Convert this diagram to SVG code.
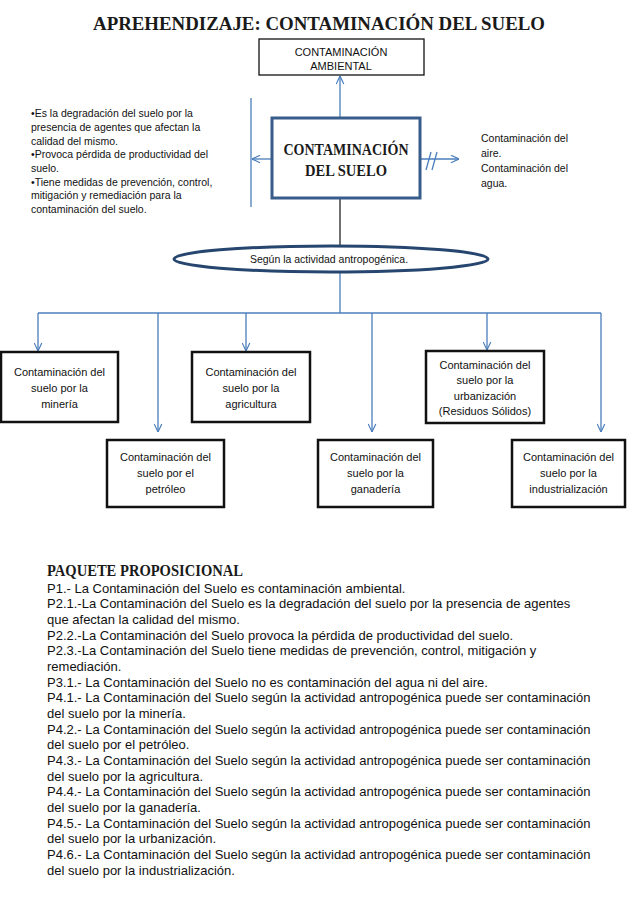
<svg xmlns="http://www.w3.org/2000/svg" width="638" height="922" viewBox="0 0 638 922">
<style>
.bg{fill:#ffffff}
.ttl{font-family:"Liberation Serif",serif;font-weight:bold;fill:#1a1a1a}
.t{font-family:"Liberation Sans",Arial,sans-serif;font-size:10.5px;fill:#111}
.bt{font-family:"Liberation Sans",Arial,sans-serif;font-size:11px;fill:#111;text-anchor:middle}
.p{font-family:"Liberation Sans",Arial,sans-serif;font-size:13px;fill:#111}
.box{fill:#fff;stroke:#111;stroke-width:2.5}
.con{stroke:#4a7ebb;stroke-width:1.3;fill:none}
</style>
<defs>
<marker id="ah" viewBox="0 0 10 10" refX="9.5" refY="5" markerWidth="9" markerHeight="9" markerUnits="userSpaceOnUse" orient="auto">
<path d="M0.5,0.8 L9.5,5 L0.5,9.2" fill="none" stroke="#4a7ebb" stroke-width="1.3"/>
</marker>
</defs>
<rect class="bg" x="0" y="0" width="638" height="922"/>
<text class="ttl" x="319" y="30" font-size="19" text-anchor="middle" textLength="452" lengthAdjust="spacingAndGlyphs">APREHENDIZAJE: CONTAMINACIÓN DEL SUELO</text>

<g id="connectors">
<line class="con" x1="340" y1="117" x2="340" y2="76" marker-end="url(#ah)"/>
<line class="con" x1="251" y1="98" x2="251" y2="207"/>
<line class="con" x1="272" y1="159" x2="252" y2="159" marker-end="url(#ah)"/>
<line class="con" x1="420" y1="159" x2="459" y2="159" marker-end="url(#ah)"/>
<line class="con" x1="426" y1="170" x2="431" y2="152"/>
<line class="con" x1="432" y1="170" x2="437" y2="152"/>
<line x1="340" y1="199" x2="340" y2="246" stroke="#111" stroke-width="1.2"/>
<line class="con" x1="340" y1="272" x2="340" y2="313"/>
<line class="con" x1="38" y1="313" x2="601" y2="313"/>
<line class="con" x1="38" y1="313" x2="38" y2="351" marker-end="url(#ah)"/>
<line class="con" x1="246" y1="313" x2="246" y2="351" marker-end="url(#ah)"/>
<line class="con" x1="487" y1="313" x2="487" y2="350" marker-end="url(#ah)"/>
<line class="con" x1="158" y1="313" x2="158" y2="432" marker-end="url(#ah)"/>
<line class="con" x1="372" y1="313" x2="372" y2="432" marker-end="url(#ah)"/>
<line class="con" x1="601" y1="313" x2="601" y2="432" marker-end="url(#ah)"/>
</g>

<g id="n-ambiental">
<rect x="259" y="39" width="165" height="36" fill="#fff" stroke="#111" stroke-width="1.3"/>
<text class="bt" x="341" y="56" font-size="11">CONTAMINACIÓN</text>
<text class="bt" x="341" y="70" font-size="11">AMBIENTAL</text>
</g>

<g id="n-definicion">
<text class="t" x="31" y="117">•Es la degradación del suelo por  la</text>
<text class="t" x="31" y="131">presencia de agentes que afectan la</text>
<text class="t" x="31" y="144.5">calidad del mismo.</text>
<text class="t" x="31" y="158">•Provoca pérdida de productividad del</text>
<text class="t" x="31" y="172">suelo.</text>
<text class="t" x="31" y="185.5">•Tiene medidas de prevención, control,</text>
<text class="t" x="31" y="199">mitigación y remediación para la</text>
<text class="t" x="31" y="213">contaminación del suelo.</text>
</g>

<g id="n-suelo">
<rect x="272" y="118" width="148" height="80" fill="#fff" stroke="#385d8a" stroke-width="3"/>
<text class="ttl" x="346" y="155" font-size="16" text-anchor="middle" textLength="125" lengthAdjust="spacingAndGlyphs">CONTAMINACIÓN</text>
<text class="ttl" x="346" y="176" font-size="16" text-anchor="middle" textLength="82" lengthAdjust="spacingAndGlyphs">DEL SUELO</text>
</g>

<g id="n-aire-agua">
<text class="t" x="481" y="142">Contaminación del</text>
<text class="t" x="481" y="157">aire.</text>
<text class="t" x="481" y="171.5">Contaminación del</text>
<text class="t" x="481" y="186.5">agua.</text>
</g>

<g id="n-actividad">
<ellipse cx="331" cy="259" rx="157" ry="13" fill="#fff" stroke="#27466f" stroke-width="3"/>
<text class="t" x="329" y="263" text-anchor="middle">Según la actividad antropogénica.</text>
</g>

<g id="n-mineria">
<rect class="box" x="1" y="352" width="117" height="70"/>
<text class="bt" x="59.5" y="375.5">Contaminación del</text>
<text class="bt" x="59.5" y="391.5">suelo por la</text>
<text class="bt" x="59.5" y="407.5">minería</text>
</g>

<g id="n-agricultura">
<rect class="box" x="192" y="352" width="118" height="70"/>
<text class="bt" x="251" y="375.5">Contaminación del</text>
<text class="bt" x="251" y="391.5">suelo por la</text>
<text class="bt" x="251" y="407.5">agricultura</text>
</g>

<g id="n-urbanizacion">
<rect class="box" x="426" y="351" width="118" height="72"/>
<text class="bt" x="485" y="368.5">Contaminación del</text>
<text class="bt" x="485" y="384">suelo por la</text>
<text class="bt" x="485" y="399.5">urbanización</text>
<text class="bt" x="485" y="415">(Residuos Sólidos)</text>
</g>

<g id="n-petroleo">
<rect class="box" x="107" y="440" width="117" height="67"/>
<text class="bt" x="165.5" y="461">Contaminación del</text>
<text class="bt" x="165.5" y="477">suelo por el</text>
<text class="bt" x="165.5" y="493">petróleo</text>
</g>

<g id="n-ganaderia">
<rect class="box" x="318" y="440" width="115" height="67"/>
<text class="bt" x="375.5" y="461">Contaminación del</text>
<text class="bt" x="375.5" y="477">suelo por la</text>
<text class="bt" x="375.5" y="493">ganadería</text>
</g>

<g id="n-industrializacion">
<rect class="box" x="512" y="440" width="113" height="67"/>
<text class="bt" x="568.5" y="461">Contaminación del</text>
<text class="bt" x="568.5" y="477">suelo por la</text>
<text class="bt" x="568.5" y="493">industrialización</text>
</g>

<g id="paquete">
<text class="ttl" x="47" y="576" font-size="16" textLength="196" lengthAdjust="spacingAndGlyphs">PAQUETE PROPOSICIONAL</text>
<text class="p" x="47" y="592.5">P1.- La Contaminación del Suelo es contaminación ambiental.</text>
<text class="p" x="47" y="608.2">P2.1.-La Contaminación del Suelo es la degradación del suelo por la presencia de agentes</text>
<text class="p" x="47" y="623.8">que afectan la calidad del mismo.</text>
<text class="p" x="47" y="639.5">P2.2.-La Contaminación del Suelo provoca la pérdida de productividad del suelo.</text>
<text class="p" x="47" y="655.2">P2.3.-La Contaminación del Suelo tiene medidas de prevención, control, mitigación y</text>
<text class="p" x="47" y="670.8">remediación.</text>
<text class="p" x="47" y="686.5">P3.1.- La Contaminación del Suelo no es contaminación del agua ni del aire.</text>
<text class="p" x="47" y="702.2">P4.1.- La Contaminación del Suelo según la actividad antropogénica puede ser contaminación</text>
<text class="p" x="47" y="717.8">del suelo por la minería.</text>
<text class="p" x="47" y="733.5">P4.2.- La Contaminación del Suelo según la actividad antropogénica puede ser contaminación</text>
<text class="p" x="47" y="749.2">del suelo por el petróleo.</text>
<text class="p" x="47" y="764.8">P4.3.- La Contaminación del Suelo según la actividad antropogénica puede ser contaminación</text>
<text class="p" x="47" y="780.5">del suelo por la agricultura.</text>
<text class="p" x="47" y="796.2">P4.4.- La Contaminación del Suelo según la actividad antropogénica puede ser contaminación</text>
<text class="p" x="47" y="811.8">del suelo por la ganadería.</text>
<text class="p" x="47" y="827.5">P4.5.- La Contaminación del Suelo según la actividad antropogénica puede ser contaminación</text>
<text class="p" x="47" y="843.2">del suelo por la urbanización.</text>
<text class="p" x="47" y="858.8">P4.6.- La Contaminación del Suelo según la actividad antropogénica puede ser contaminación</text>
<text class="p" x="47" y="874.5">del suelo por la industrialización.</text>
</g>
</svg>
